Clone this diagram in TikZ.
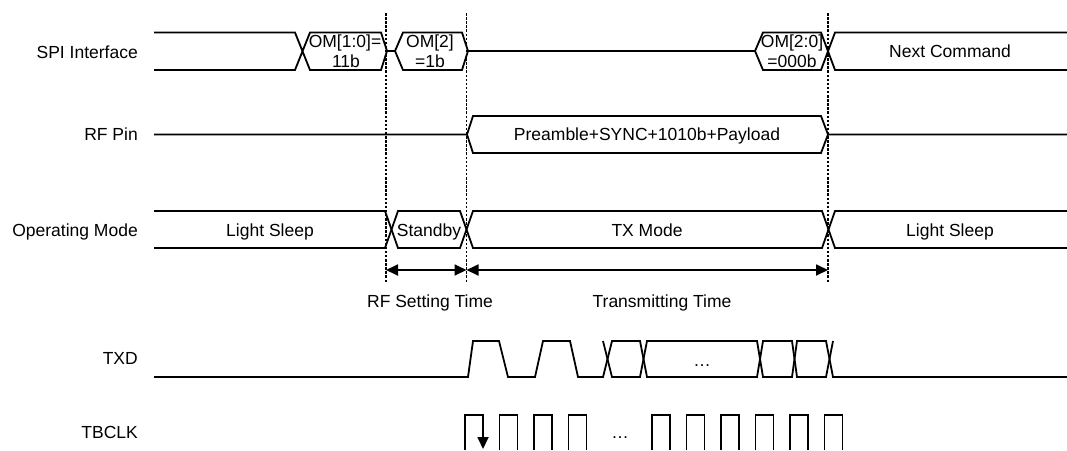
\documentclass[tikz,border=0pt]{standalone}
\usepackage{fontspec}
\setmainfont{Liberation Sans}
\usetikzlibrary{arrows.meta}
\begin{document}
\begin{tikzpicture}[x=1pt,y=-1pt,
  sig/.style={line width=1.8pt, line join=miter},
  guide/.style={line width=1.3pt, dash pattern=on 2.5pt off 1.6pt},
  lbl/.style={anchor=base, inner sep=0pt, font=\fontsize{17.5}{20}\selectfont},
  rlbl/.style={lbl, anchor=base east},
  dimarrow/.style={line width=1.8pt, {Triangle[length=12pt,width=11pt]}-{Triangle[length=12pt,width=11pt]}},
  tip/.style={line width=1.8pt, -{Triangle[length=12pt,width=11pt]}},
]
\useasboundingbox (0,0) rectangle (1067,450);

% signal names
\node[rlbl] (nspi) at (138,58) {SPI Interface};
\node[rlbl] (nrf) at (138,140) {RF Pin};
\node[rlbl] (nop) at (138,236) {Operating Mode};
\node[rlbl] (ntxd) at (138,364) {TXD};
\node[rlbl] (nclk) at (138,438) {TBCLK};

% guide lines
\coordinate (g1t) at (386,13);   \coordinate (g1b) at (386,283);
\coordinate (g2t) at (466.5,13); \coordinate (g2b) at (466.5,283);
\coordinate (g3t) at (828,13);   \coordinate (g3b) at (828,283);
\draw[guide] (g1t) -- (g1b);
\draw[guide] (g2t) -- (g2b);
\draw[guide] (g3t) -- (g3b);

% SPI Interface
\draw[sig] (154,32.5) -- (295,32.5) -- (310,70) -- (381,70) -- (387,51) -- (381,32.5) -- (310,32.5) -- (295,70) -- (154,70);
\draw[sig] (387,51) -- (395,51) -- (403,32.5) -- (462,32.5) -- (468,51) -- (755,51) -- (763,32.5) -- (821,32.5) -- (835,70) -- (1067,70);
\draw[sig] (395,51) -- (403,70) -- (462,70) -- (468,51);
\draw[sig] (755,51) -- (763,70) -- (821,70) -- (835,32.5) -- (1067,32.5);
\node[lbl] (om10a) at (345,47) {OM[1:0]=};
\node[lbl] (om10b) at (346,67) {11b};
\node[lbl] (om2a) at (430,47) {OM[2]};
\node[lbl] (om2b) at (430,67) {=1b};
\node[lbl] (om20a) at (792,47) {OM[2:0]};
\node[lbl] (om20b) at (792,67) {=000b};
\node[lbl] (nextc) at (950,57) {Next Command};

% RF Pin
\draw[sig] (154,134.5) -- (467,134.5) -- (473,116) -- (821,116) -- (828,134.5) -- (1067,134.5);
\draw[sig] (467,134.5) -- (473,153) -- (821,153) -- (828,134.5);
\node[lbl] (pre) at (647,140) {Preamble+SYNC+1010b+Payload};

% Operating Mode
\draw[sig] (154,211) -- (385,211) -- (398,248) -- (460,248) -- (473,211) -- (822,211) -- (835,248) -- (1067,248);
\draw[sig] (154,248) -- (385,248) -- (398,211) -- (460,211) -- (473,248) -- (822,248) -- (835,211) -- (1067,211);
\node[lbl] (ls1) at (270,236) {Light Sleep};
\node[lbl] (stb) at (429,236) {Standby};
\node[lbl] (txm) at (647,236) {TX Mode};
\node[lbl] (ls2) at (950,236) {Light Sleep};

% timing arrows
\coordinate (a1) at (386,270);
\coordinate (a2) at (466.5,270);
\coordinate (a3) at (828,270);
\draw[dimarrow] (a1) -- (a2);
\draw[dimarrow] (a2) -- (a3);
\node[lbl] (rfst) at (430,307) {RF Setting Time};
\node[lbl] (trt) at (662,307) {Transmitting Time};

% TXD
\draw[sig] (154,377) -- (468,377) -- (473,341) -- (499,341) -- (508,377) -- (535,377) -- (543,341) -- (570,341) -- (578,377) -- (603,377) -- (612,341) -- (640,341) -- (647,377) -- (757,377) -- (763,341) -- (792,341) -- (797,377) -- (826,377) -- (833,341);
\draw[sig] (603,341) -- (612,377) -- (640,377) -- (647,341) -- (757,341) -- (763,377) -- (792,377) -- (797,341) -- (826,341) -- (833,377) -- (1067,377);
\node[lbl] (txddots) at (702,366) {…};

% TBCLK
\draw[sig] (465,450) -- (465,415) -- (483,415);
\draw[tip] (483,414.1) -- (483,449);
\foreach \x in {499.5,534,568.5,652,686.5,721,755.5,790,824.5}{
  \draw[sig] (\x,450) -- (\x,415) -- (\x+18,415) -- (\x+18,450);
}
\node[lbl] (clkdots) at (620,438) {…};
\end{tikzpicture}
\end{document}
